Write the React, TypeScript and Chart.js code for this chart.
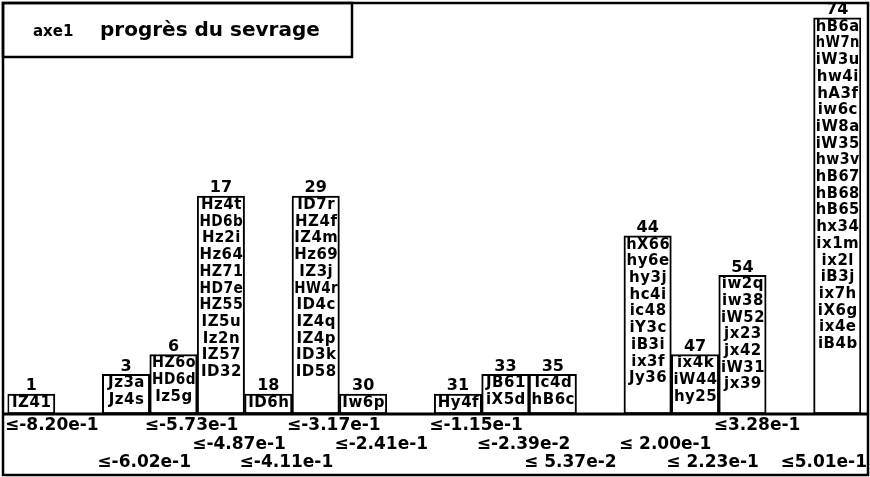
import { useEffect, useRef } from 'react';
import { Chart, registerables } from 'chart.js';

Chart.register(...registerables);

// ---- data ----
const slots = ['0', '1', '2', '3', '4', '5', '6', '7', '8', '9', '10', '11', '12', '13', '14', '15', '16', '17'];
const counts = [1, 0, 2, 3, 11, 1, 11, 1, 0, 1, 2, 2, 0, 9, 3, 7, 0, 20];
const ranks = ['1', '', '3', '6', '17', '18', '29', '30', '', '31', '33', '35', '', '44', '47', '54', '', '74'];
const bounds = [
  '≤-8.20e-1', '', '≤-6.02e-1', '≤-5.73e-1', '≤-4.87e-1', '≤-4.11e-1', '≤-3.17e-1', '≤-2.41e-1', '',
  '≤-1.15e-1', '≤-2.39e-2', '≤ 5.37e-2', '', '≤ 2.00e-1', '≤ 2.23e-1', '≤3.28e-1', '', '≤5.01e-1',
];
const boundRows = [0, 0, 2, 0, 1, 2, 0, 1, 0, 0, 1, 2, 0, 1, 2, 0, 0, 2];
const members: string[][] = [
  ['IZ41'],
  [],
  ['Jz3a', 'Jz4s'],
  ['HZ6o', 'HD6d', 'Iz5g'],
  ['Hz4t', 'HD6b', 'Hz2i', 'Hz64', 'HZ71', 'HD7e', 'HZ55', 'IZ5u', 'Iz2n', 'IZ57', 'ID32'],
  ['ID6h'],
  ['ID7r', 'HZ4f', 'IZ4m', 'Hz69', 'IZ3j', 'HW4r', 'ID4c', 'IZ4q', 'IZ4p', 'ID3k', 'ID58'],
  ['Iw6p'],
  [],
  ['Hy4f'],
  ['JB61', 'iX5d'],
  ['Ic4d', 'hB6c'],
  [],
  ['hX66', 'hy6e', 'hy3j', 'hc4i', 'ic48', 'iY3c', 'iB3i', 'ix3f', 'Jy36'],
  ['ix4k', 'iW44', 'hy25'],
  ['iw2q', 'iw38', 'iW52', 'jx23', 'jx42', 'iW31', 'jx39'],
  [],
  ['hB6a', 'hW7n', 'iW3u', 'hw4i', 'hA3f', 'iw6c', 'iW8a', 'iW35', 'hw3v', 'hB67', 'hB68', 'hB65', 'hx34',
    'ix1m', 'ix2l', 'iB3j', 'ix7h', 'iX6g', 'ix4e', 'iB4b'],
];
const axisName = 'axe1';
const titleText = 'progrès du sevrage';

const FONT = '"DejaVu Sans", sans-serif';
const W = 870;
const H = 477;

const decor = {
  id: 'decor',
  beforeDraw(chart: any) {
    const ctx = chart.ctx;
    ctx.save();
    ctx.fillStyle = '#fff';
    ctx.fillRect(0, 0, chart.width, chart.height);
    ctx.restore();
  },
  afterDatasetsDraw(chart: any) {
    const ctx = chart.ctx as CanvasRenderingContext2D;
    const yScale = chart.scales.y;
    const meta = chart.getDatasetMeta(0);
    const base = yScale.getPixelForValue(0);
    const slotW = chart.chartArea.width / slots.length;
    ctx.save();
    ctx.strokeStyle = '#000';
    ctx.fillStyle = '#000';
    // outer frame
    ctx.lineWidth = 2.5;
    ctx.strokeRect(3, 3, W - 5, H - 5);
    // title box
    ctx.strokeRect(3, 3, 349, 54);
    // baseline
    ctx.lineWidth = 3;
    ctx.beginPath();
    ctx.moveTo(3, base);
    ctx.lineTo(W - 2, base);
    ctx.stroke();

    // title texts
    ctx.textBaseline = 'middle';
    ctx.textAlign = 'left';
    ctx.font = `bold 15px ${FONT}`;
    ctx.fillText(axisName, 33, 32);
    ctx.font = `bold 20px ${FONT}`;
    ctx.fillText(titleText, 100, 31);

    meta.data.forEach((bar: any, i: number) => {
      if (!counts[i]) return;
      const p = bar.getProps(['x', 'y'], true);
      const cx = p.x;
      const top = p.y;
      // rank label above box
      ctx.textAlign = 'center';
      ctx.font = `bold 16px ${FONT}`;
      ctx.fillText(ranks[i], cx, top - 8);
      // members inside box
      ctx.font = `bold 15px ${FONT}`;
      (ctx as any).letterSpacing = '0.5px';
      members[i].forEach((m, k) => {
        ctx.fillText(m, cx + 0.5, top + 9 + k * 16.7, 44);
      });
      (ctx as any).letterSpacing = '0px';
      // bound labels below baseline
      ctx.textAlign = 'left';
      ctx.font = `bold 17px ${FONT}`;
      const txt = bounds[i];
      const tw = ctx.measureText(txt).width;
      let lx = cx - slotW / 2 - 5;
      if (lx < 5) lx = 5;
      if (lx + tw > W - 3) lx = W - 3 - tw;
      ctx.fillText(txt, lx, base + 12 + boundRows[i] * 18.5);
    });
    ctx.restore();
  },
};

export default function App() {
  const ref = useRef<HTMLCanvasElement | null>(null);
  useEffect(() => {
    if (!ref.current) return;
    const chart = new Chart(ref.current, {
      type: 'bar',
      data: {
        labels: slots,
        datasets: [
          {
            data: counts,
            backgroundColor: '#fff',
            borderColor: '#000',
            borderWidth: 2,
            borderSkipped: false,
            barPercentage: 1,
            categoryPercentage: 1,
          },
        ],
      },
      options: {
        responsive: false,
        animation: false,
        devicePixelRatio: 1,
        layout: { padding: { left: 7.5, right: 9, top: 8, bottom: 63 } },
        plugins: { legend: { display: false }, tooltip: { enabled: false }, title: { display: false } },
        scales: {
          x: { display: false, offset: true },
          y: { display: false, min: 0, max: 20.5 },
        },
      },
      plugins: [decor],
    });
    return () => chart.destroy();
  }, []);
  return (
    <div style={{ position: 'fixed', left: 0, top: 0, width: W, height: H, background: '#fff' }}>
      <canvas ref={ref} width={W} height={H} style={{ display: 'block', width: W, height: H }} />
    </div>
  );
}
